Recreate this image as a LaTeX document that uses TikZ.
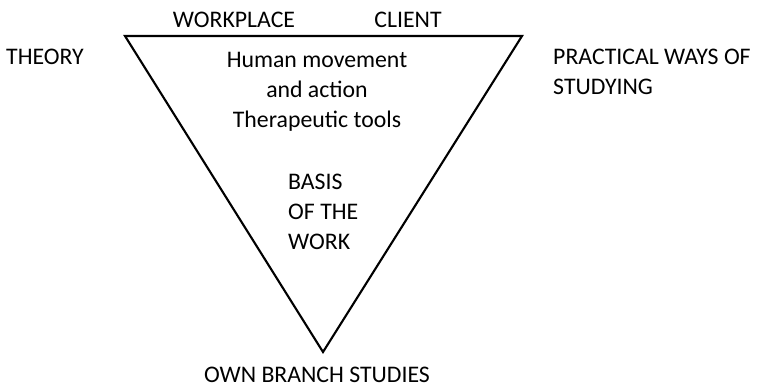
\documentclass[tikz,border=0pt]{standalone}
\usepackage{fontspec}
\setmainfont{Carlito}
\usetikzlibrary{positioning}

\begin{document}
\begin{tikzpicture}[x=0.03cm, y=-0.03cm]
            \tikzstyle{every node} = [font=\fontsize{20.3}{25.8}\selectfont, inner sep=0pt]
            \tikzstyle{corner} = [line width=1.8pt, line join=miter]
            \useasboundingbox (0, 0) rectangle (757, 389);

            \coordinate (topleft) at (125, 36);
            \coordinate (topright) at (522, 36);
            \coordinate (bottom) at (323, 352);
            \draw[corner] (topleft) -- (topright) -- (bottom) -- cycle;

            \node (workplace) at (234, 20) {WORKPLACE};
            \node (client) at (408, 20) {CLIENT};
            \node (theory) at (45, 57) {THEORY};
            \node[anchor=west, align=left] (practical) at (553, 72)
                {PRACTICAL WAYS OF\\STUDYING};

            \node[align=center] (human) at (317, 92)
                {Human movement\\and action\\Therapeutic tools};
            \node[anchor=west, align=left] (basis) at (288, 212)
                {BASIS\\OF THE\\WORK};

            \node[anchor=base] (own) at (317, 382) {OWN BRANCH STUDIES};
        \end{tikzpicture}
\end{document}
